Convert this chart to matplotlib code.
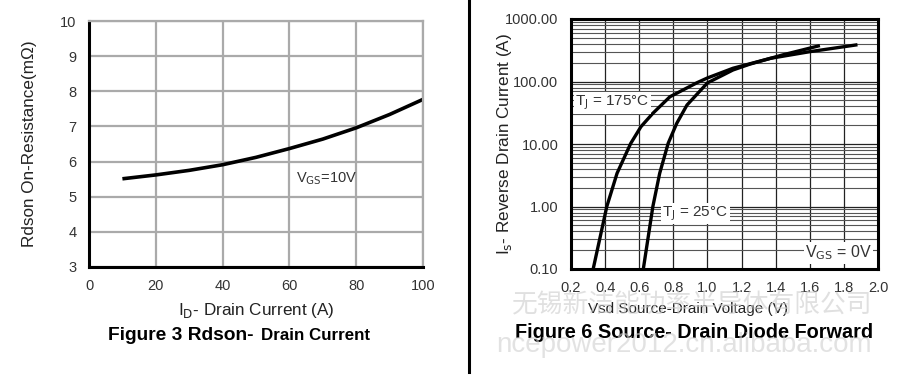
import matplotlib
matplotlib.use("Agg")
import matplotlib.pyplot as plt
from matplotlib.lines import Line2D
import numpy as np

plt.rcParams['font.family'] = ['Liberation Sans', 'Noto Sans CJK SC', 'DejaVu Sans']

# ---- Figure 3 data: Rdson vs drain current ----
id_current = [10, 20, 30, 40, 50, 60, 70, 80, 90, 100]
rdson = [5.51, 5.62, 5.75, 5.91, 6.12, 6.37, 6.64, 6.96, 7.34, 7.77]
left_xticks = [0, 20, 40, 60, 80, 100]
left_yticks = [3, 4, 5, 6, 7, 8, 9, 10]

# ---- Figure 6 data: source-drain diode forward ----
vsd_175 = [0.33, 0.41, 0.47, 0.55, 0.61, 0.68, 0.78, 0.94, 1.0, 1.15, 1.37, 1.6, 1.87]
is_175 = [0.1, 1.0, 3.4, 10.2, 18.9, 31, 57, 96, 114, 163, 235, 300, 384]
vsd_25 = [0.624, 0.68, 0.72, 0.77, 0.82, 0.88, 1.0, 1.15, 1.25, 1.44, 1.65]
is_25 = [0.1, 1.0, 3.4, 10.3, 21.4, 42, 95, 153, 190, 266, 370]
right_xticks = [0.2, 0.4, 0.6, 0.8, 1.0, 1.2, 1.4, 1.6, 1.8, 2.0]
right_yticks = [0.1, 1, 10, 100, 1000]
right_yticklabels = ["0.10", "1.00", "10.00", "100.00", "1000.00"]

fig = plt.figure(figsize=(9, 3.78), dpi=100)
W, H = 900, 378

def px_axes(x0, y0, x1, y1):
    return fig.add_axes([x0 / W, 1 - y1 / H, (x1 - x0) / W, (y1 - y0) / H])

tick_col = '#333333'

# ---------------- Left chart ----------------
ax1 = px_axes(89, 21, 423, 267)
ax1.set_xlim(0, 100)
ax1.set_ylim(3, 10)
ax1.set_xticks(left_xticks)
ax1.set_yticks(left_yticks)
ax1.grid(True, color='#aaaaaa', linewidth=1.6)
ax1.set_axisbelow(True)
for s in ['top', 'right']:
    ax1.spines[s].set_color('#aaaaaa')
    ax1.spines[s].set_linewidth(1.6)
for s in ['left', 'bottom']:
    ax1.spines[s].set_color('black')
    ax1.spines[s].set_linewidth(2.2)
ax1.tick_params(length=0, pad=9, labelsize=10.5, colors=tick_col)
ax1.plot(id_current, rdson, color='black', linewidth=2.6, solid_capstyle='butt')
ax1.text(62, 5.5, r'V$_{\mathrm{GS}}$=10V', fontsize=10.5, color='#333333', va='center')
ax1.set_ylabel('Rdson On-Resistance(m\u03a9)', fontsize=12.3, color='#222222')
ax1.yaxis.set_label_coords((30 - 89) / 334, 0.5)
ax1.yaxis.label.set_va('center')
ax1.set_xlabel(r'I$_{\mathrm{D}}$- Drain Current (A)', fontsize=12.3, color='#222222')
ax1.xaxis.set_label_coords((256 - 89) / 334, -(310 - 267) / 246)
ax1.xaxis.label.set_va('center')
fig.text(254 / W, 1 - 335 / H, 'Figure 3 Rdson-', fontsize=13.8, fontweight='bold',
         ha='right', va='center')
fig.text(261 / W, 1 - 335 / H, 'Drain Current', fontsize=12.2, fontweight='bold',
         ha='left', va='center')

# separator line
fig.add_artist(Line2D([469 / W, 469 / W], [1 - 372 / H, 1.0], color='black', linewidth=2.2))

# ---------------- Right chart ----------------
ax2 = px_axes(571, 19, 878, 269)
ax2.set_xlim(0.2, 2.0)
ax2.set_yscale('log')
ax2.set_ylim(0.1, 1000)
ax2.set_xticks(right_xticks)
ax2.set_xticklabels([f"{v:.1f}" for v in right_xticks])
ax2.set_yticks(right_yticks)
ax2.set_yticklabels(right_yticklabels)
ax2.grid(True, which='major', color='#222222', linewidth=0.9)
ax2.grid(True, which='minor', axis='y', color='#555555', linewidth=0.8)
ax2.set_axisbelow(True)
for s in ax2.spines.values():
    s.set_color('black')
    s.set_linewidth(2.2)
ax2.tick_params(which='both', length=0, pad=9, labelsize=10.5, colors=tick_col)
ax2.tick_params(axis='y', which='minor', labelleft=False)
ax2.plot(vsd_175, is_175, color='black', linewidth=2.4)
ax2.plot(vsd_25, is_25, color='black', linewidth=2.4)
bb = dict(facecolor='white', edgecolor='none', pad=1.0)
ax2.text(0.225, 45, r'T$_{\mathrm{J}}$ = 175°C', fontsize=11, color='#333333', va='center', bbox=bb)
ax2.text(0.735, 0.78, r'T$_{\mathrm{J}}$ = 25°C', fontsize=11, color='#333333', va='center', bbox=bb)
ax2.text(1.965, 0.18, r'V$_{\mathrm{GS}}$ = 0V', fontsize=11.5, color='#333333', va='center', ha='right', bbox=bb)
ax2.set_ylabel(r'I$_{\mathrm{s}}$- Reverse Drain Current (A)', fontsize=12.3, color='#222222')
ax2.yaxis.set_label_coords((505 - 571) / 307, 0.5)
ax2.yaxis.label.set_va('center')
ax2.set_xlabel('Vsd Source-Drain Voltage (V)', fontsize=11, color='#222222')
ax2.xaxis.set_label_coords((688 - 571) / 307, -(309 - 269) / 250)
ax2.xaxis.label.set_va('center')
fig.text(694 / W, 1 - 333 / H, 'Figure 6 Source- Drain Diode Forward', fontsize=14.3,
         fontweight='bold', ha='center', va='center')

# watermarks
fig.text(692 / W, 1 - 305 / H, '无锡新洁能功率半导体有限公司', fontsize=18.5, color='#cccccc',
         alpha=0.6, ha='center', va='center', family=['Noto Sans CJK SC', 'DejaVu Sans'])
fig.text(684 / W, 1 - 345 / H, 'ncepower2012.cn.alibaba.com', fontsize=20, color='#d0d0d0',
         alpha=0.6, ha='center', va='center')

fig.savefig('out.png', dpi=100)
